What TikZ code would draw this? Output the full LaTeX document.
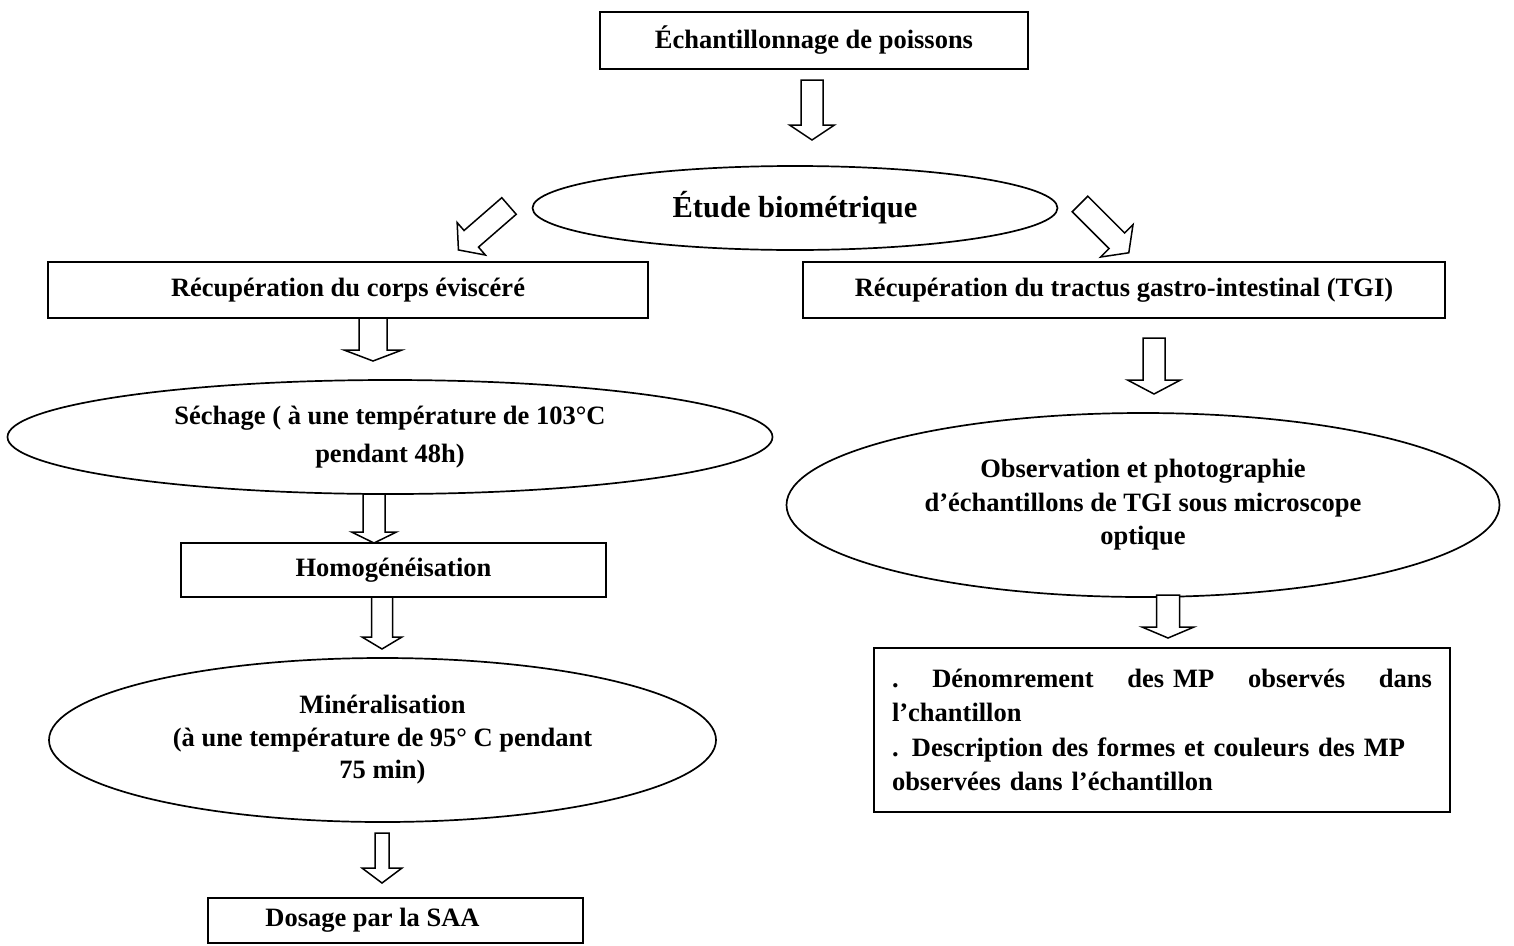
\documentclass[tikz,border=0pt]{standalone}
\usepackage{fontspec}
\setmainfont{Liberation Serif}
\usetikzlibrary{shapes.geometric}
\tikzset{
  every node/.style={font=\bfseries\fontsize{26.5}{30}\selectfont},
  box/.style={draw, line width=1.7pt, rectangle, inner sep=0pt, align=center},
  oval/.style={draw, line width=1.7pt, ellipse, inner sep=0pt, align=center},
  barrow/.style={draw, line width=1.5pt, fill=white, line join=miter},
  pics/blockarr/.style n args={4}{code={
    \draw[barrow] (-#2,0) -- (-#2,#1-#4) -- (-#3,#1-#4) -- (0,#1) -- (#3,#1-#4) -- (#2,#1-#4) -- (#2,0) -- cycle;
  }}
}
\begin{document}
\begin{tikzpicture}[x=1pt,y=-1pt]
\fill[white] (0,0) rectangle (1514,945);
\useasboundingbox (0,0) rectangle (1514,945);

% nodes
\node[box, minimum width=428pt, minimum height=57pt] (top) at (814,40.5) {Échantillonnage de poissons};
\node[oval, minimum width=525pt, minimum height=84pt, font=\bfseries\fontsize{30.5}{34}\selectfont] (bio) at (795,208) {Étude biométrique};
\node[box, minimum width=600pt, minimum height=56pt] (lbox) at (348,290) {Récupération du corps éviscéré};
\node[box, minimum width=642pt, minimum height=56pt] (rbox) at (1124,290) {Récupération du tractus gastro-intestinal (TGI)};
\node[oval, minimum width=765pt, minimum height=114pt, font=\bfseries\fontsize{26.5}{38}\selectfont] (sech) at (390,437) {\rule[-14pt]{0pt}{0pt}Séchage ( à une température de 103°C\\pendant 48h)};
\node[box, minimum width=425pt, minimum height=54pt] (homog) at (393.5,570) {Homogénéisation};
\node[oval, minimum width=667pt, minimum height=164pt, font=\bfseries\fontsize{26.5}{32.5}\selectfont] (miner) at (382.5,740) {Minéralisation\\(à une température de 95° C pendant\\75 min)};
\node[box, minimum width=375pt, minimum height=45pt] (dosage) at (395.5,920.5) {Dosage par la SAA\hspace{46pt}};
\node[oval, minimum width=713pt, minimum height=184pt, font=\bfseries\fontsize{26.5}{33.5}\selectfont] (obs) at (1143,505) {Observation et photographie\\d’échantillons de TGI sous microscope\\optique};
\node[box, minimum width=576pt, minimum height=164pt, text width=540pt, align=left, font=\bfseries\fontsize{26.5}{34.5}\selectfont] (final) at (1162,730) {\hbox to 540pt{.\hfill Dénomrement\hfill des MP\hfill observés\hfill dans}\\l’chantillon\\. Description des formes et couleurs des MP\\observées dans l’échantillon};

% block arrows
\pic at (812,80) {blockarr={60}{11}{22.5}{15}};
\pic[rotate=-49] at (509,206) {blockarr={67}{11}{21.5}{17}};
\pic[rotate=45] at (1080,204) {blockarr={69}{11}{23}{17}};
\pic at (373,318) {blockarr={43}{14}{29}{11}};
\pic at (374,494) {blockarr={49}{11}{22.5}{11}};
\pic at (382,597) {blockarr={52}{10.5}{20}{12}};
\pic at (382,833) {blockarr={50}{7}{20}{15}};
\pic at (1154,338) {blockarr={56}{11}{26.5}{14}};
\pic at (1168,595) {blockarr={43}{11.5}{26}{11}};
\end{tikzpicture}
\end{document}
